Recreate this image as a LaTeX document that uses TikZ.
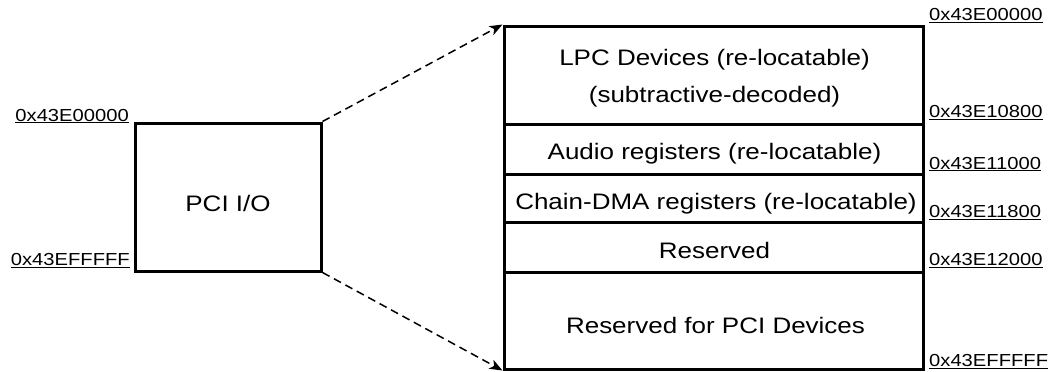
\documentclass[tikz,border=0pt]{standalone}
\usepackage{fontspec}
\setmainfont[FakeStretch=1.16]{Liberation Sans}
\usetikzlibrary{arrows.meta}
\newcommand{\hexul}[1]{\underline{#1}}
\begin{document}
\begin{tikzpicture}[x=1pt,y=-1pt,
  cell/.style={draw, line width=3pt, inner sep=0pt, minimum width=419pt},
  iobox/.style={draw, line width=3pt, inner sep=0pt, minimum width=186pt, minimum height=148pt},
  main/.style={font=\fontsize{22.4}{26}\selectfont, anchor=base, inner sep=0pt},
  hexr/.style={font=\fontsize{17.4}{20}\selectfont, anchor=base west, inner sep=0pt},
  hexl/.style={font=\fontsize{17.4}{20}\selectfont, anchor=base east, inner sep=0pt},
  maparrow/.style={line width=1.5pt, dash pattern=on 8pt off 5pt, -{Stealth[length=13pt,width=10pt,inset=3.5pt]}}
]
\useasboundingbox (0,0) rectangle (1055,372);

% left box
\node[iobox] (pci) at (228,197) {};
\node[main] (pcit) at (228,211) {PCI I/O};
\node[hexl] (l0) at (129,121) {\hexul{0x43E00000}};
\node[hexl] (l1) at (130,265.7) {\hexul{0x43EFFFFF}};

% right column cells
\node[cell, minimum height=98pt] (lpc) at (713.5,75) {};
\node[cell, minimum height=50pt] (audio) at (713.5,149) {};
\node[cell, minimum height=48pt] (chain) at (713.5,198) {};
\node[cell, minimum height=50pt] (res) at (713.5,247) {};
\node[cell, minimum height=97pt] (pcidev) at (713.5,320.5) {};

\node[main] (lpct1) at (714.5,65.5) {LPC Devices (re-locatable)};
\node[main] (lpct2) at (714.5,102) {(subtractive-decoded)};
\node[main] (audiot) at (714.5,159.5) {Audio registers (re-locatable)};
\node[main] (chaint) at (716,209.5) {Chain-DMA registers (re-locatable)};
\node[main] (rest) at (714.5,258.5) {Reserved};
\node[main] (pcidevt) at (715.5,333.5) {Reserved for PCI Devices};

% right labels
\node[hexr] (r0) at (929,20.7) {\hexul{0x43E00000}};
\node[hexr] (r1) at (929,117.3) {\hexul{0x43E10800}};
\node[hexr] (r2) at (929,169) {\hexul{0x43E11000}};
\node[hexr] (r3) at (929,217.3) {\hexul{0x43E11800}};
\node[hexr] (r4) at (929,265.5) {\hexul{0x43E12000}};
\node[hexr] (r5) at (929,366.7) {\hexul{0x43EFFFFF}};

% arrows
\draw[maparrow] (pci.north east) -- (lpc.north west);
\draw[maparrow] (pci.south east) -- (pcidev.south west);
\end{tikzpicture}
\end{document}
